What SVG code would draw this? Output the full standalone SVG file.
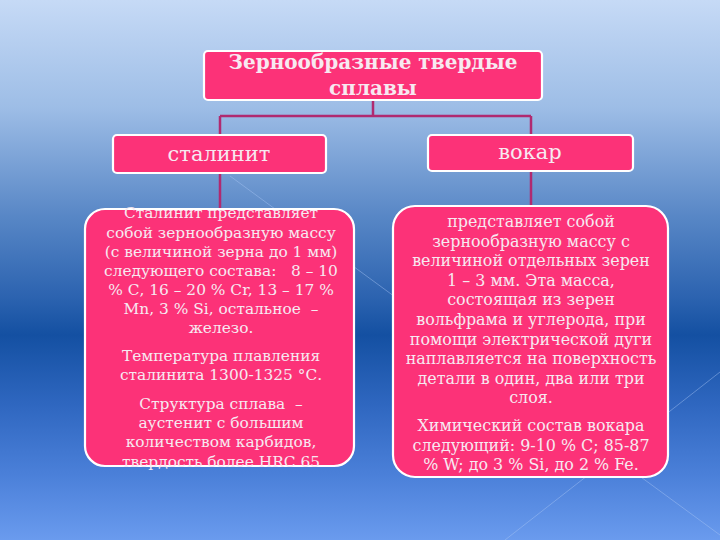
<svg xmlns="http://www.w3.org/2000/svg" width="720" height="540" viewBox="0 0 720 540">
<defs>
<linearGradient id="bg" x1="0" y1="0" x2="0" y2="1">
<stop offset="0" stop-color="#c6daf6"/>
<stop offset="0.2" stop-color="#9dbde6"/>
<stop offset="0.4" stop-color="#5887c6"/>
<stop offset="0.55" stop-color="#2c63b0"/>
<stop offset="0.62" stop-color="#1450a2"/>
<stop offset="0.75" stop-color="#2f67c0"/>
<stop offset="0.88" stop-color="#4b80d9"/>
<stop offset="1" stop-color="#6a9bee"/>
</linearGradient>
<style>
.box{fill:#fc3278;stroke:#ffffff;stroke-width:2.2}
.t{font-family:"DejaVu Serif","Liberation Serif",serif;fill:#f7e9f1;text-anchor:middle}
.title{font-size:20px;font-weight:bold}
.head{font-size:21px}
.bl{font-size:15.4px}
.br{font-size:15.9px}
.con{stroke:#b02a70;stroke-width:2.5;fill:none}
.deco{stroke:#a8c6f4;stroke-width:1;opacity:0.45;fill:none}
</style>
</defs>
<rect x="0" y="0" width="720" height="540" fill="url(#bg)"/>
<line class="deco" x1="230" y1="176" x2="720" y2="535"/>
<line class="deco" x1="720" y1="372" x2="505" y2="540"/>
<g id="connectors">
<path class="con" d="M373 100 V116 M220 116 H531 M220 116 V135 M531 116 V135 M220 173 V209 M531 171 V206"/>
</g>
<g id="node-title">
<rect class="box" x="204" y="51" width="338" height="49" rx="4"/>
<text class="t title" x="373" y="69">Зернообразные твердые</text>
<text class="t title" x="373" y="95">сплавы</text>
</g>
<g id="node-stalinit">
<rect class="box" x="113" y="135" width="213" height="38" rx="4"/>
<text class="t head" x="219" y="161">сталинит</text>
</g>
<g id="node-vokar">
<rect class="box" x="428" y="135" width="205" height="36" rx="4"/>
<text class="t head" x="530" y="159">вокар</text>
</g>
<g id="node-stalinit-desc">
<rect class="box" x="85" y="209" width="269" height="257" rx="20"/>
<text class="t bl" x="221" xml:space="preserve"><tspan x="221" y="218">Сталинит представляет</tspan><tspan x="221" y="238">собой зернообразную массу</tspan><tspan x="221" y="257">(с величиной зерна до 1 мм)</tspan><tspan x="221" y="276">следующего состава:   8 – 10</tspan><tspan x="221" y="295">% С, 16 – 20 % Cr, 13 – 17 %</tspan><tspan x="221" y="314">Mn, 3 % Si, остальное  –</tspan><tspan x="221" y="333">железо.</tspan><tspan x="221" y="361">Температура плавления</tspan><tspan x="221" y="380">сталинита 1300-1325 °С.</tspan><tspan x="221" y="409">Структура сплава  –</tspan><tspan x="221" y="428">аустенит с большим</tspan><tspan x="221" y="447">количеством карбидов,</tspan><tspan x="221" y="467">твердость более HRC 65</tspan></text>
</g>
<g id="node-vokar-desc">
<rect class="box" x="393" y="206" width="275" height="271" rx="22"/>
<text class="t br" x="531"><tspan x="531" y="227">представляет собой</tspan><tspan x="531" y="247">зернообразную массу с</tspan><tspan x="531" y="266">величиной отдельных зерен</tspan><tspan x="531" y="286">1 – 3 мм. Эта масса,</tspan><tspan x="531" y="305">состоящая из зерен</tspan><tspan x="531" y="325">вольфрама и углерода, при</tspan><tspan x="531" y="345">помощи электрической дуги</tspan><tspan x="531" y="364">наплавляется на поверхность</tspan><tspan x="531" y="384">детали в один, два или три</tspan><tspan x="531" y="403">слоя.</tspan><tspan x="531" y="431">Химический состав вокара</tspan><tspan x="531" y="451">следующий: 9-10 % С; 85-87</tspan><tspan x="531" y="470">% W; до 3 % Si, до 2 % Fe.</tspan></text>
</g>
</svg>
